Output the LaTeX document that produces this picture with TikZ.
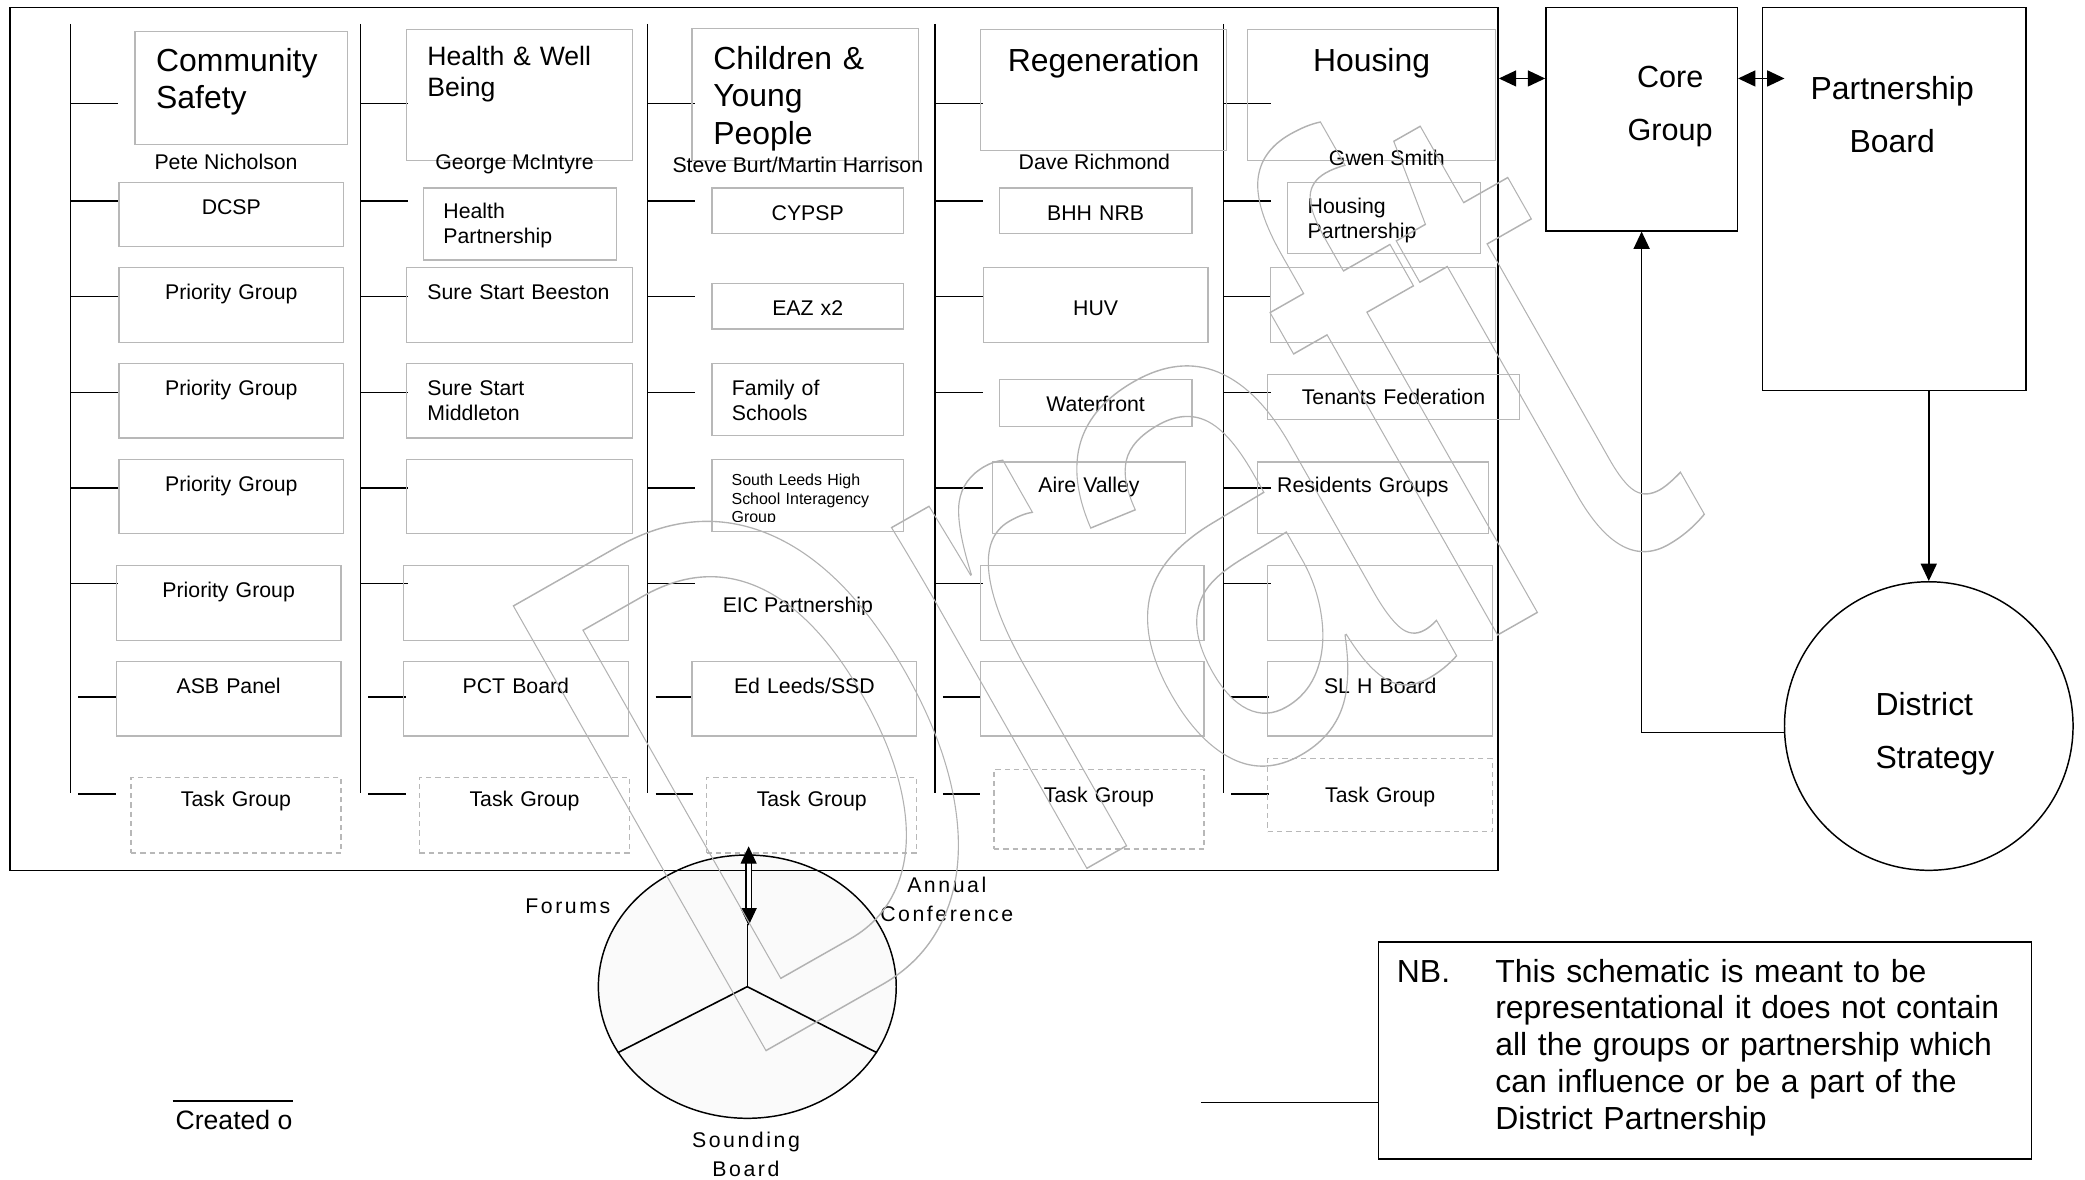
\documentclass[tikz,border=0pt]{standalone}
\usepackage{fontspec}
\setmainfont{Liberation Sans}
\newfontfamily\spacedfont[LetterSpace=12]{Liberation Sans}
\usetikzlibrary{arrows.meta, calc, positioning, shapes.geometric}

\definecolor{boxgray}{gray}{0.72}
\definecolor{markgray}{gray}{0.70}

\tikzset{
  grp/.style={draw=boxgray, line width=0.9pt, anchor=north west, inner sep=0pt,
    align=center, text height=24pt, font=\fontsize{16}{19}\selectfont},
  grpl/.style={grp, align=left, inner xsep=15pt},
  task/.style={grp, dash pattern=on 4pt off 3pt},
  head/.style={grp, text height=30pt, font=\fontsize{24}{28}\selectfont},
  who/.style={anchor=mid, font=\fontsize{16}{19}\selectfont},
  bus/.style={line width=1.1pt},
  blk/.style={draw, line width=1.1pt, anchor=north west, inner sep=0pt},
  onehead/.style={-{Triangle[length=13pt, width=12pt]}},
  twohead/.style={{Triangle[length=13pt, width=12pt]}-{Triangle[length=13pt, width=12pt]}},
  lbl/.style={font=\spacedfont\fontsize{16}{22}\selectfont, align=center}
}

\begin{document}
\begin{tikzpicture}[x=1pt, y=-1pt]
\useasboundingbox (0,0) rectangle (1568,887);

% sounding board first, the frame crosses it
\node[ellipse, draw, line width=1.1pt, fill=black!2, minimum width=224pt, minimum height=198pt, inner sep=0pt] (sb) at (562,742) {};

\node[blk, line width=1.2pt, minimum width=1119pt, minimum height=649pt] (frame) at (7,5) {};

% column lines and ticks
\foreach \cx in {53,271,487,703,920}{
  \draw[bus] (\cx,18) -- (\cx,596);
  \foreach \ry in {78,151,223,295,367,439}
    \draw[bus] (\cx,\ry) -- ++(36,0);
  \foreach \ry in {524,597}
    \draw[bus] (\cx+6,\ry) -- ++(28,0);
}

% community safety
\node[head, align=left, inner xsep=16pt, text width=128pt, text depth=55pt] (cs) at (101,23) {Community\\Safety};
\node[who] (csname) at (170,125) {Pete Nicholson};
\node[grp, text width=169pt, text depth=24pt] (dcsp) at (89,137) {DCSP};
\node[grp, text width=169pt, text depth=32pt] (pg1) at (89,201) {Priority Group};
\node[grp, text width=169pt, text depth=32pt] (pg2) at (89,273) {Priority Group};
\node[grp, text width=169pt, text depth=32pt] (pg3) at (89,345) {Priority Group};
\node[grp, text width=169pt, text depth=32pt] (pg4) at (87,425) {Priority Group};
\node[grp, text width=169pt, text depth=32pt] (asb) at (87,497) {ASB Panel};
\node[task, text width=158pt, text height=22pt, text depth=35pt] (tg1) at (98,584) {Task Group};

% health and well being
\node[grp, align=left, inner xsep=16pt, text width=138pt, text height=27pt, text depth=71pt, font=\fontsize{20}{23}\selectfont] (hw) at (305,22) {Health \& Well\\Being};
\node[who] (hwname) at (387,125) {George McIntyre};
\node[grpl, text width=115pt, text height=23pt, text depth=31pt] (hp) at (318,141) {Health\\Partnership};
\node[grpl, inner xsep=16pt, text width=138pt, text depth=32pt] (ssb) at (305,201) {Sure Start Beeston};
\node[grpl, inner xsep=16pt, text width=138pt, text depth=32pt] (ssm) at (305,273) {Sure Start\\Middleton};
\node[grp, text width=170pt, text depth=32pt] (e21) at (305,345) {};
\node[grp, text width=169pt, text depth=32pt] (e22) at (303,425) {};
\node[grp, text width=169pt, text depth=32pt] (pct) at (303,497) {PCT Board};
\node[task, text width=158pt, text height=22pt, text depth=35pt] (tg2) at (315,584) {Task Group};

% children and young people
\node[head, align=left, inner xsep=16pt, text width=138pt, text height=31pt, text depth=68pt] (cyp) at (520,21) {Children \&\\Young\\People};
\node[who] (cypname) at (600,127) {Steve Burt/Martin Harrison};
\node[grp, text width=144pt, text depth=10pt] (cypsp) at (535,141) {CYPSP};
\node[grp, text width=144pt, text depth=10pt] (eaz) at (535,213) {EAZ x2};
\node[grpl, text width=114pt, text depth=30pt] (fos) at (535,273) {Family of\\Schools};
\node[grp, text width=144pt, text depth=30pt] (sl) at (535,345) {};
\begin{scope}
  \clip (sl.north west) rectangle ($(sl.south east)+(0,-8)$);
  \node[anchor=north west, inner ysep=0pt, inner xsep=15pt, align=left, text width=114pt, text height=20pt, font=\fontsize{12}{14}\selectfont] (sltxt) at (sl.north west) {South Leeds High\\School Interagency\\Group};
\end{scope}
\begin{scope}
  \clip (487,440) rectangle (703,462);
  \node[who] (eic) at (600,458) {EIC Partnership};
\end{scope}
\node[grp, text width=169pt, text depth=32pt] (edl) at (520,497) {Ed Leeds/SSD};
\node[task, text width=158pt, text height=22pt, text depth=35pt] (tg3) at (531,584) {Task Group};

% regeneration
\node[head, text width=185pt, text height=31pt, text depth=60pt] (reg) at (737,22) {Regeneration};
\node[who] (regname) at (823,125) {Dave Richmond};
\node[grp, text width=145pt, text depth=10pt] (bhh) at (751,141) {BHH NRB};
\node[grp, text width=169pt, text height=36pt, text depth=20pt] (huv) at (739,201) {HUV};
\node[grp, text width=145pt, text depth=11pt] (wf) at (751,285) {Waterfront};
\node[grp, text width=145pt, text height=23pt, text depth=31pt] (av) at (746,347) {Aire Valley};
\node[grp, text width=168pt, text depth=32pt] (e41) at (737,425) {};
\node[grp, text width=168pt, text depth=32pt] (e42) at (737,497) {};
\node[task, text width=158pt, text height=25pt, text depth=35pt] (tg4) at (747,578) {Task Group};

% housing
\node[head, text width=186pt, text height=31pt, text depth=67pt] (hou) at (938,22) {Housing};
\node[who] (houname) at (1043,122) {Gwen Smith};
\node[grpl, text width=115pt, text height=23pt, text depth=30pt] (hop) at (968,137) {Housing\\Partnership};
\node[grp, text width=169pt, text depth=32pt] (e51) at (955,201) {};
\node[grp, text width=189pt, text height=23pt, text depth=11pt] (tf) at (953,281) {Tenants Federation};
\node[grpl, text width=144pt, text height=23pt, text depth=31pt] (rg) at (945,347) {Residents Groups};
\node[grp, text width=169pt, text depth=32pt] (e52) at (953,425) {};
\node[grp, text width=169pt, text depth=32pt] (slh) at (953,497) {SL H Board};
\node[task, text width=169pt, text height=33pt, text depth=22pt] (tg5) at (953,570) {Task Group};

% core group, board, strategy
\node[blk, minimum width=144pt, minimum height=168pt] (core) at (1162,5) {};
\node[anchor=base, align=center, text width=120pt, font=\fontsize{23}{40}\selectfont] (coretxt) at (1256,66) {Core\\Group};
\node[blk, minimum width=198pt, minimum height=288pt] (pb) at (1325,5) {};
\node[anchor=base, align=center, text width=180pt, font=\fontsize{24}{40}\selectfont] (pbtxt) at (1423,75) {Partnership\\Board};
\node[circle, draw, line width=1.1pt, minimum size=217pt, inner sep=0pt, align=left, text width=100pt, text height=29pt, text depth=45pt, font=\fontsize{24}{40}\selectfont] (ds) at (1450.5,546) {\hspace*{10pt}District\\\hspace*{10pt}Strategy};

\draw[twohead, line width=1.1pt] ($(frame.north east)+(0,54)$) -- ($(core.north west)+(0,54)$);
\draw[twohead, line width=1.1pt] ($(core.north east)+(0,54)$) -- ($(pb.north west)+(17,54)$);
\draw[onehead, line width=1.1pt] (pb.south -| ds.north) -- (ds.north);
\draw[onehead, line width=1.1pt] ([yshift=-5pt]ds.west) -| (core.south);

% sounding board
\draw[line width=1.2pt] (sb.center) -- ($(sb.center)+(0,-47)$);
\draw[line width=1.2pt] (sb.center) -- (sb.207);
\draw[line width=1.2pt] (sb.center) -- (sb.333);
\draw[twohead, double, double distance=3pt, line width=0.9pt] ($(sb.north)+(1,-6)$) -- ($(sb.center)+(1,-46)$);
\node[lbl, anchor=mid] (forums) at (427,684) {Forums};
\node[lbl, anchor=base, text width=120pt] (annual) at (712,671) {Annual\\Conference};
\node[lbl, anchor=base, text width=120pt] (sound) at (561,863) {Sounding\\Board};

% note
\node[blk, text width=491pt, text height=30pt, text depth=133pt, align=left, font=\fontsize{24}{27.7}\selectfont] (nb) at (1036,708) {\hspace*{14pt}\begin{tabular}[t]{@{}p{74pt}@{}l@{}}NB. & This schematic is meant to be\\ & representational it does not contain\\ & all the groups or partnership which\\ & can influence or be a part of the\\ & District Partnership\end{tabular}};
\coordinate (nbin) at (903,829);
\draw[line width=1.1pt] (nbin) -- (nbin -| nb.west);

\node[anchor=mid, inner sep=0pt, font=\fontsize{20}{24}\selectfont] (created) at (176,847) {Created o};
\draw[line width=1.1pt] ($(created.north west)+(-2,-7)$) -- ($(created.north east)+(0,-7)$);

% watermark
\node[anchor=base west, rotate=29.6, xscale=0.7, transform shape, inner sep=0pt, text=markgray, font=\fontsize{559}{559}\selectfont] (draft) at (548,806) {\special{pdf:literal direct 1 Tr 1.1 w}Draft\special{pdf:literal direct 0 Tr}};
\end{tikzpicture}
\end{document}
